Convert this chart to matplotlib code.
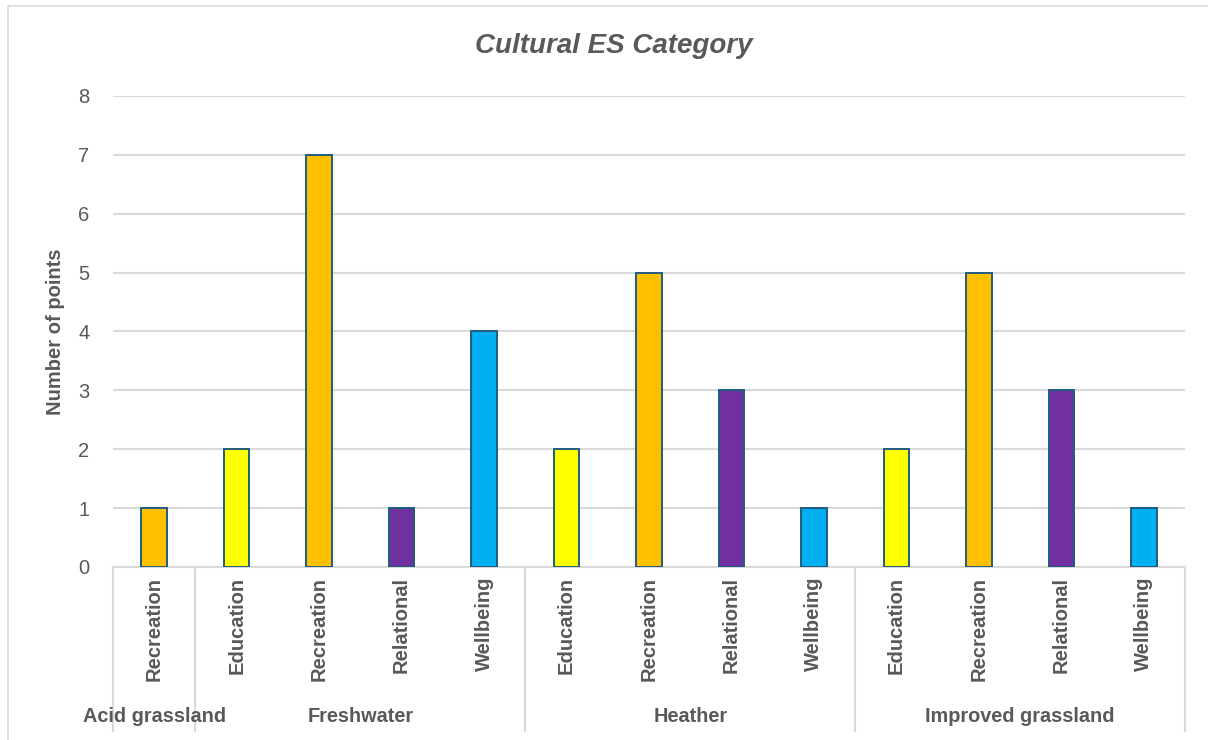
import matplotlib.pyplot as plt
from matplotlib.patches import Rectangle
from matplotlib.lines import Line2D
from matplotlib.transforms import blended_transform_factory

# Data
groups = ["Acid grassland", "Freshwater", "Heather", "Improved grassland"]
group_sizes = [1, 4, 4, 4]
categories = ["Recreation",
              "Education", "Recreation", "Relational", "Wellbeing",
              "Education", "Recreation", "Relational", "Wellbeing",
              "Education", "Recreation", "Relational", "Wellbeing"]
values = [1, 2, 7, 1, 4, 2, 5, 3, 1, 2, 5, 3, 1]

palette = {"Education": "#FFFF00", "Recreation": "#FFC000",
           "Relational": "#7030A0", "Wellbeing": "#00B0F0"}

plt.rcParams['font.family'] = ['Liberation Sans', 'DejaVu Sans']
text_col = "#595959"
grid_col = "#D9D9D9"

fig = plt.figure(figsize=(12.08, 7.40), dpi=100)
ax = fig.add_axes([113/1208, 1 - 567/740, (1185-113)/1208, (567-96)/740])

x = list(range(len(values)))
ax.bar(x, values, width=0.31, color=[palette[c] for c in categories],
       edgecolor="#1F5C80", linewidth=1.4, zorder=3)

ax.set_xlim(-0.5, len(values) - 0.5)
ax.set_ylim(0, 8)
ax.set_yticks(range(0, 9))
ax.tick_params(axis='y', length=0, labelsize=14.5, labelcolor=text_col, pad=17)
ax.yaxis.grid(True, color=grid_col, linewidth=1.5, zorder=0)
ax.set_axisbelow(True)
for s in ['top', 'right', 'left']:
    ax.spines[s].set_visible(False)
ax.spines['bottom'].set_color(grid_col)
ax.spines['bottom'].set_linewidth(1.5)

ax.set_xticks(x)
ax.set_xticklabels(categories, rotation=90, fontsize=14.5, fontweight='bold',
                   color=text_col)
ax.tick_params(axis='x', length=0, pad=7)

ax.set_ylabel("Number of points", fontsize=14.5, fontweight='bold',
              color=text_col)
ax.yaxis.set_label_coords((65 - 113) / 1072, 0.5)

# Group separators and labels below the category labels
trans = blended_transform_factory(ax.transData, ax.transAxes)
bottom = -(731 - 567) / (567 - 96)
start = -0.5
for g, n in zip(groups, group_sizes):
    ax.add_line(Line2D([start, start], [0, bottom], transform=trans,
                       color=grid_col, linewidth=1.5, clip_on=False))
    ax.text(start + n / 2, -(717 - 567) / (567 - 96), g, transform=trans,
            ha='center', va='center', fontsize=14.3, fontweight='bold',
            color=text_col)
    start += n
ax.add_line(Line2D([start, start], [0, bottom], transform=trans,
                   color=grid_col, linewidth=1.5, clip_on=False))

fig.suptitle("Cultural ES Category", x=614/1208, y=1 - 46/740, va='center',
             fontsize=20, fontweight='bold', fontstyle='italic', color=text_col)

# Chart frame
fig.add_artist(Rectangle((8/1208, -0.01), 1.2, 1 - 6/740 + 0.01,
                         transform=fig.transFigure, fill=False,
                         edgecolor=grid_col, linewidth=1.2))

fig.savefig("out.png", dpi=100, facecolor="white")
